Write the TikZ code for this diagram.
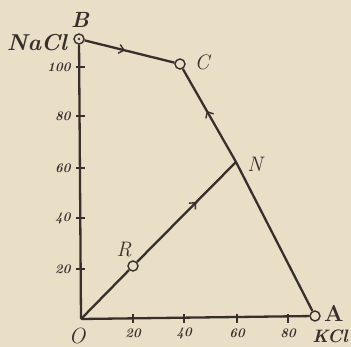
\documentclass[tikz,border=0pt]{standalone}
\usetikzlibrary{arrows.meta,decorations.markings}
\definecolor{paper}{RGB}{233,222,198}
\definecolor{ink}{RGB}{55,47,44}
\begin{document}
\begin{tikzpicture}[x=1pt,y=-1pt,
  line/.style={draw=ink,line width=2.3pt},
  pt/.style={circle,draw=ink,fill=paper,line width=1.4pt,minimum size=10pt,inner sep=0pt},
  lbl/.style={text=ink,font=\fontsize{21}{21}\selectfont\itshape},
  tick/.style={text=ink,font=\fontsize{13}{13}\selectfont\bfseries\itshape},
  midarrow/.style={postaction={decorate,decoration={markings,mark=at position #1 with {\arrow[ink,line width=1.4pt]{Straight Barb[length=5pt,width=9pt]}}}}}
]
\fill[paper] (0,0) rectangle (351,347);
\useasboundingbox (0,0) rectangle (351,347);
\coordinate (O) at (81,319);
\coordinate (N) at (236,162);
\node[pt] (A) at (315,316) {};
\node[pt] (B) at (79,39) {};
\node[pt] (C) at (180,64) {};
\node[pt] (R) at (133,266) {};
\fill[ink] (B.center) circle (1.3pt);
% axes
\draw[line] (O) -- (A);
\draw[line] (O) -- (B);
% ticks
\foreach \y/\t in {269/20,218/40,168/60,116/80,67/100}{
  \draw[ink,line width=1.6pt] (76,\y) -- (85,\y);
  \node[tick,anchor=east] at (74,\y) {\t};
}
\foreach \x/\t in {133/20,184/40,237/60,288/80}{
  \draw[ink,line width=1.6pt] (\x,314) -- (\x,323);
  \node[tick] at (\x,333) {\t};
}
% curves
\draw[line,midarrow=0.45] (B) -- (C);
\draw[line] (A) -- (N);
\draw[line,midarrow=0.55] (N) -- (C);
\draw[line] (O) -- (R);
\draw[line,midarrow=0.6] (R) -- (N);
% labels
\node[text=ink,font=\fontsize{22}{22}\selectfont\bfseries\itshape] at (80,20) {B};
\node[text=ink,font=\fontsize{23}{23}\selectfont\bfseries\itshape] at (37,43) {NaCl};
\node[lbl] at (202,62) {C};
\node[lbl] at (255,164) {N};
\node[lbl] at (124,250) {R};
\node[text=ink,font=\fontsize{22}{22}\selectfont\itshape] at (77,336) {O};
\node[text=ink,font=\fontsize{23}{23}\selectfont\bfseries] at (334,313) {A};
\node[text=ink,font=\fontsize{18}{18}\selectfont\bfseries\itshape] at (330,336) {KCl};
\end{tikzpicture}
\end{document}
